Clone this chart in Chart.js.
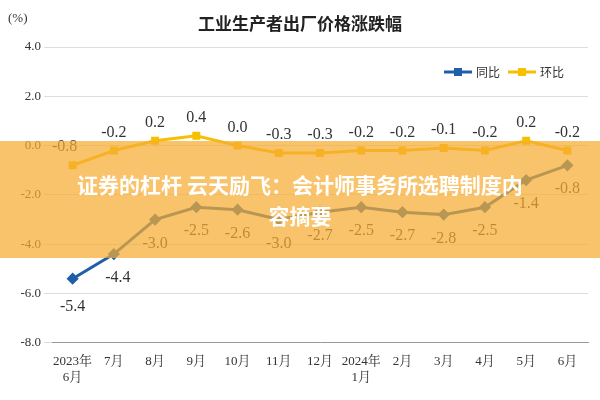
<!DOCTYPE html>
<html><head><meta charset="utf-8">
<script src="https://cdn.jsdelivr.net/npm/chart.js@4"></script>
<style>
body{margin:0;width:600px;height:400px;background:#fff;position:relative;overflow:hidden}
#c{position:absolute;left:0;top:0}
#banner{position:absolute;left:0;top:141px;width:600px;height:117px;background:rgba(246,172,50,0.72);color:#fff;font:bold 21px "Noto Sans CJK SC";text-align:center;display:flex;align-items:center;justify-content:center;line-height:31px}
</style></head><body>
<canvas id="c" width="600" height="400"></canvas>
<div id="banner"><div>证券的杠杆 云天励飞：会计师事务所选聘制度内<br>容摘要</div></div>
<script>
const categories=[["2023年","6月"],"7月","8月","9月","10月","11月","12月",["2024年","1月"],"2月","3月","4月","5月","6月"];
const yoy=[-5.4,-4.4,-3.0,-2.5,-2.6,-3.0,-2.7,-2.5,-2.7,-2.8,-2.5,-1.4,-0.8];
const mom=[-0.8,-0.2,0.2,0.4,0.0,-0.3,-0.3,-0.2,-0.2,-0.1,-0.2,0.2,-0.2];
const yTicks=[4,2,0,-2,-4,-6,-8];
const serif='"Liberation Serif","Noto Serif CJK SC","Noto Sans CJK SC",serif';
const labels={id:'lbl',afterDatasetsDraw(ch){
 const c=ch.ctx;c.save();c.font='16px '+serif;c.fillStyle='#333';c.textAlign='center';
 ch.getDatasetMeta(1).data.forEach((p,i)=>{c.fillText(mom[i].toFixed(1),p.x-(i==0?8:0),p.y-14);});
 ch.getDatasetMeta(0).data.forEach((p,i)=>{c.fillText(yoy[i].toFixed(1),p.x+(i==1?4:0),p.y+(i==0?32:28));});
 c.font='bold 17px "Noto Sans CJK SC"';c.fillStyle='#222';c.fillText('工业生产者出厂价格涨跌幅',300,30);
 c.font='13px '+serif;c.fillStyle='#333';c.textAlign='left';c.fillText('(%)',8,22);
 // legend
 const items=[['同比','#1f5fa8',444],['环比','#f5c000',508]];
 c.font='12px "Noto Sans CJK SC"';c.textBaseline='middle';
 items.forEach(([t,col,x])=>{c.strokeStyle=col;c.fillStyle=col;c.lineWidth=3;c.beginPath();c.moveTo(x,72);c.lineTo(x+28,72);c.stroke();
  c.fillRect(x+10,68,8,8);c.fillStyle='#333';c.fillText(t,x+32,72);});
 c.restore();}};
new Chart(document.getElementById('c'),{type:'line',
data:{labels:categories,datasets:[
 {label:'同比',data:yoy,borderColor:'#1f5fa8',backgroundColor:'#1f5fa8',borderWidth:3,pointStyle:'rectRot',pointRadius:4},
 {label:'环比',data:mom,borderColor:'#f5c000',backgroundColor:'#f5c000',borderWidth:3,pointStyle:'rect',pointRadius:3.5}]},
options:{responsive:false,animation:false,layout:{padding:{top:47,right:12,left:0,bottom:12}},
 plugins:{legend:{display:false},tooltip:{enabled:false}},
 scales:{x:{offset:true,grid:{display:false},border:{color:'#999'},ticks:{color:'#333',font:{size:13,family:serif},maxRotation:0,autoSkip:false}},
  y:{min:-8,max:4,afterFit(s){s.width=52},border:{display:false},grid:{color:'#ddd'},afterBuildTicks(s){s.ticks=yTicks.map(v=>({value:v}))},ticks:{color:'#333',font:{size:13,family:serif},callback:v=>v.toFixed(1)}}}},
plugins:[labels]});
</script></body></html>
